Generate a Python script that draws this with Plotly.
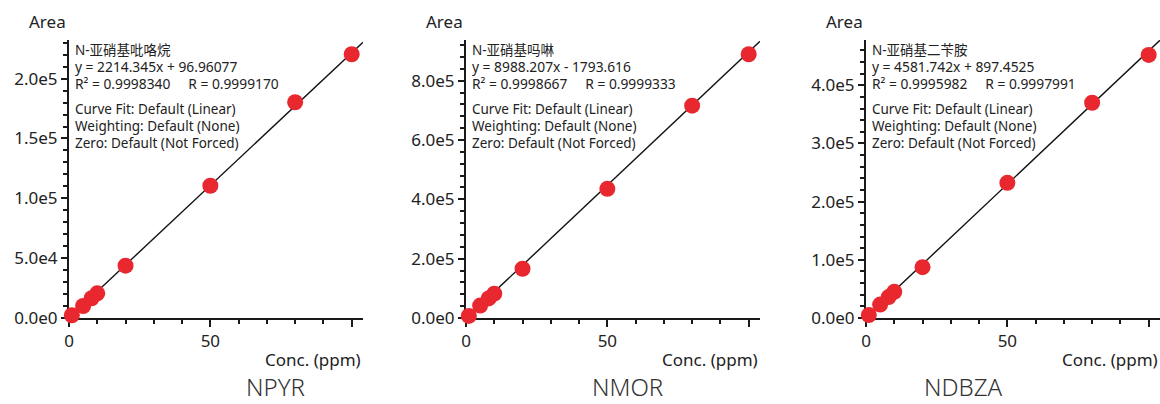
import plotly.graph_objects as go

W, H = 1160, 404

# ---------------- data ----------------
conc = [1, 5, 8, 10, 20, 50, 80, 100]
npyr_area = [2300, 10000, 16500, 20600, 43700, 110500, 180300, 220400]
nmor_area = [7000, 42000, 66000, 82000, 166000, 435400, 715800, 888900]
ndbza_area = [5000, 23000, 36000, 45000, 87300, 232200, 369900, 452000]

# regression coefficients (slope, intercept) as printed on the chart
npyr_fit = (2214.345, 96.96077)
nmor_fit = (8988.207, -1793.616)
ndbza_fit = (4581.742, 897.4525)

titles = ["NPYR", "NMOR", "NDBZA"]
names_cn = ["N-亚硝基吡咯烷", "N-亚硝基吗啉", "N-亚硝基二苄胺"]
eq_texts = ["y = 2214.345x + 96.96077", "y = 8988.207x - 1793.616", "y = 4581.742x + 897.4525"]
r_texts = [("R² = 0.9998340", "R = 0.9999170"),
           ("R² = 0.9998667", "R = 0.9999333"),
           ("R² = 0.9995982", "R = 0.9997991")]
info_lines = ["Curve Fit: Default (Linear)", "Weighting: Default (None)", "Zero: Default (Not Forced)"]

x_tickvals = [0, 50, 100]
x_ticktext = ["0", "50", ""]

y_tickvals = [
    [0, 50000, 100000, 150000, 200000],
    [0, 200000, 400000, 600000, 800000],
    [0, 100000, 200000, 300000, 400000],
]
y_ticktext = [
    ["0.0e0", "5.0e4", "1.0e5", "1.5e5", "2.0e5"],
    ["0.0e0", "2.0e5", "4.0e5", "6.0e5", "8.0e5"],
    ["0.0e0", "1.0e5", "2.0e5", "3.0e5", "4.0e5"],
]
y_minor = [10000, 40000, 20000]
y_max = [232300, 937000, 477700]
x_max = 104

areas = [npyr_area, nmor_area, ndbza_area]
fits = [npyr_fit, nmor_fit, ndbza_fit]

# ---------------- layout geometry ----------------
x_left_px = [69, 466, 866]
plot_w_px = 294
y_top_px, y_bot_px = 40, 318
title_cx_px = [275, 627, 963]

FONT = "Noto Sans, Noto Sans CJK SC, sans-serif"
TXT = "#222222"
AX = "#1a1a1a"
RED = "#e8282e"


def py(p):
    return 1 - p / H


fig = go.Figure()
annotations = []
layout = {}
GAP = "\u00a0" * 5

for i in range(3):
    n = "" if i == 0 else str(i + 1)
    xa, ya = "x" + n, "y" + n
    slope, icpt = fits[i]
    fx = [0, x_max]
    fy = [slope * v + icpt for v in fx]
    fig.add_trace(go.Scatter(x=fx, y=fy, mode="lines",
                             line=dict(color="#111111", width=1.4),
                             xaxis=xa, yaxis=ya, showlegend=False, hoverinfo="skip"))
    fig.add_trace(go.Scatter(x=conc, y=areas[i], mode="markers",
                             marker=dict(color=RED, size=16, line=dict(width=0)),
                             cliponaxis=False,
                             xaxis=xa, yaxis=ya, showlegend=False))

    x0 = x_left_px[i] / W
    x1 = min(1.0, (x_left_px[i] + plot_w_px) / W)
    layout["xaxis" + n] = dict(
        domain=[x0, x1], range=[0, x_max], anchor=ya, automargin=False,
        showgrid=False, zeroline=False, showline=True, linecolor=AX, linewidth=2,
        ticks="outside", ticklen=7, tickwidth=2, tickcolor=AX,
        tickmode="array", tickvals=x_tickvals, ticktext=x_ticktext,
        tickfont=dict(family=FONT, size=17, color=TXT),
        minor=dict(tickmode="linear", tick0=0, dtick=10, ticks="outside",
                   ticklen=4, tickwidth=2, tickcolor=AX),
        layer="below traces", fixedrange=True,
    )
    layout["yaxis" + n] = dict(
        domain=[py(y_bot_px), py(y_top_px)], range=[0, y_max[i]], anchor=xa, automargin=False,
        showgrid=False, zeroline=False, showline=True, linecolor=AX, linewidth=2,
        ticks="outside", ticklen=6, tickwidth=2, tickcolor=AX,
        tickmode="array", tickvals=y_tickvals[i], ticktext=y_ticktext[i],
        tickfont=dict(family=FONT, size=17, color=TXT),
        minor=dict(tickmode="linear", tick0=0, dtick=y_minor[i], ticks="outside",
                   ticklen=4, tickwidth=2, tickcolor=AX),
        layer="below traces", fixedrange=True,
    )

    dom = xa + " domain"
    lines = [names_cn[i], eq_texts[i], r_texts[i][0] + GAP + r_texts[i][1]] + info_lines
    sizes = [13.5, 13.8, 13.8, 13.5, 13.5, 13.5]
    ys = [50, 66.7, 83.3, 108.7, 125.7, 142.7]
    for t, yy, fs in zip(lines, ys, sizes):
        annotations.append(dict(text=t, xref=dom, x=0, xanchor="left", xshift=4,
                                yref="paper", y=py(yy), yanchor="middle",
                                showarrow=False, font=dict(family=FONT, size=fs, color=TXT)))
    annotations.append(dict(text="Area", xref=dom, x=0, xanchor="right", xshift=-1,
                            yref="paper", y=py(21), yanchor="middle", showarrow=False,
                            font=dict(family=FONT, size=17, color=TXT)))
    annotations.append(dict(text="Conc. (ppm)", xref=dom, x=1, xanchor="right", xshift=-1,
                            yref="paper", y=py(359), yanchor="middle", showarrow=False,
                            borderpad=0, font=dict(family=FONT, size=17, color=TXT)))
    annotations.append(dict(text=titles[i], xref="paper", x=title_cx_px[i] / W, xanchor="center",
                            yref="paper", y=0, yanchor="bottom", showarrow=False,
                            borderpad=0,
                            font=dict(family=FONT, size=24, color="#333333", weight=300)))

fig.update_layout(
    template="none",
    width=W, height=H, margin=dict(l=0, r=0, t=0, b=0, autoexpand=False),
    paper_bgcolor="white", plot_bgcolor="white",
    annotations=annotations, showlegend=False,
    font=dict(family=FONT, color=TXT),
    **layout,
)

fig.write_html("out.html")
